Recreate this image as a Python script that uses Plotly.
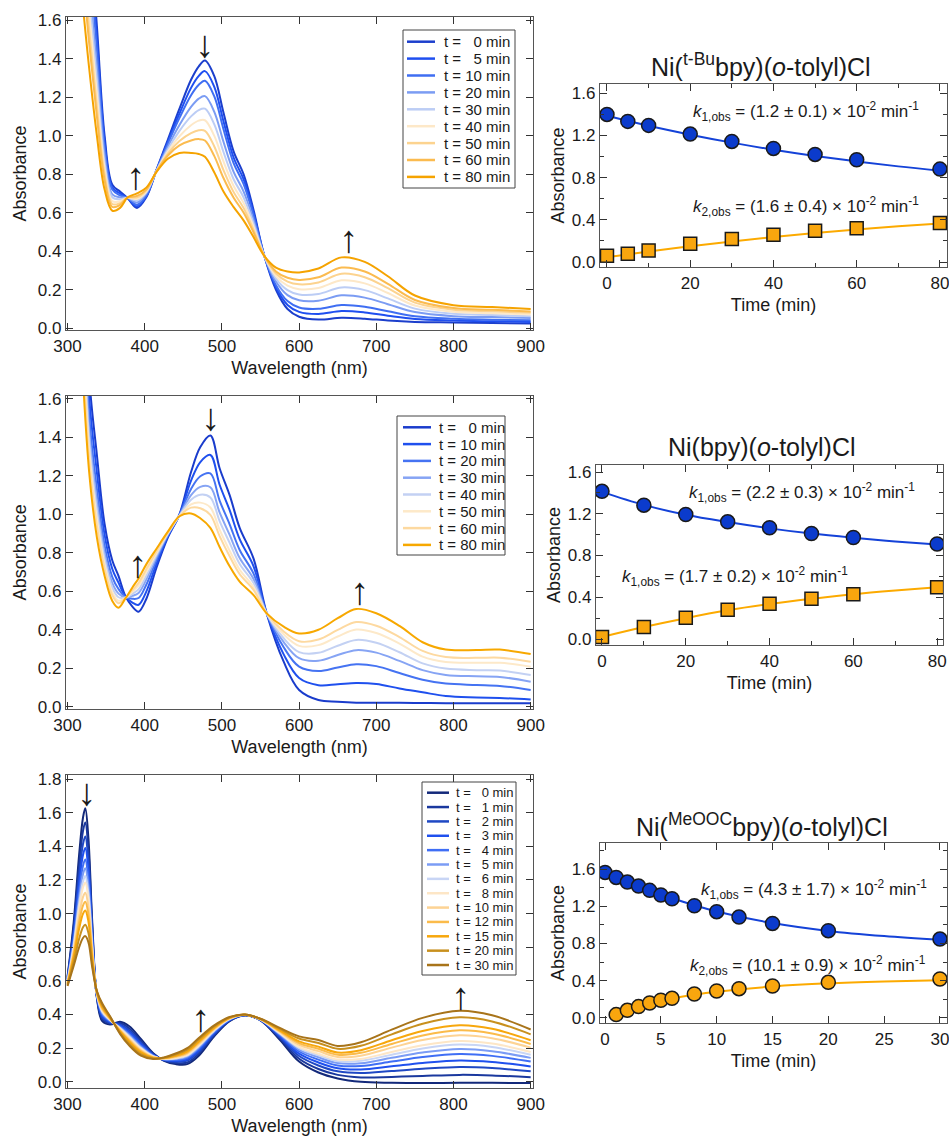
import plotly.graph_objects as go

FIG_W, FIG_H = 949, 1138
FONT = "Liberation Sans, Arial, Helvetica, sans-serif"

# ---------------- data: panel 1, Ni(t-Bu bpy)(o-tolyl)Cl spectra ----------------
WL1 = [318, 328, 338, 348, 358, 368, 378, 390, 402, 415, 430, 445, 460, 470, 478, 490,
       502, 515, 528, 540, 555, 570, 585, 600, 625, 655, 685, 715, 750, 800, 850, 900]
TIMES1 = ["0", "5", "10", "20", "30", "40", "50", "60", "80"]
P1_T0 = [2.8, 2.1, 1.57, 1.0, 0.745, 0.71, 0.675, 0.625, 0.68, 0.82, 0.98, 1.14, 1.29, 1.36, 1.39, 1.31, 1.12, 0.92, 0.80, 0.63, 0.375, 0.20, 0.10, 0.06, 0.045, 0.055, 0.05, 0.04, 0.033, 0.03, 0.027, 0.025]
P1_T5 = [2.68, 2.02, 1.51, 0.97, 0.73, 0.70, 0.675, 0.633, 0.685, 0.819, 0.969, 1.115, 1.248, 1.31, 1.335, 1.255, 1.075, 0.888, 0.774, 0.614, 0.375, 0.213, 0.121, 0.085, 0.074, 0.089, 0.082, 0.065, 0.048, 0.04, 0.036, 0.033]
P1_T10 = [2.58, 1.94, 1.45, 0.94, 0.72, 0.69, 0.676, 0.641, 0.69, 0.818, 0.959, 1.092, 1.21, 1.264, 1.285, 1.205, 1.034, 0.859, 0.75, 0.599, 0.375, 0.224, 0.141, 0.108, 0.101, 0.121, 0.112, 0.088, 0.062, 0.049, 0.044, 0.041]
P1_T20 = [2.41, 1.82, 1.36, 0.90, 0.695, 0.68, 0.677, 0.653, 0.70, 0.816, 0.943, 1.055, 1.149, 1.192, 1.205, 1.125, 0.968, 0.813, 0.711, 0.575, 0.375, 0.243, 0.172, 0.145, 0.143, 0.171, 0.159, 0.125, 0.084, 0.063, 0.058, 0.053]
P1_T30 = [2.28, 1.73, 1.29, 0.86, 0.68, 0.67, 0.678, 0.663, 0.705, 0.815, 0.93, 1.025, 1.10, 1.133, 1.14, 1.06, 0.915, 0.775, 0.68, 0.555, 0.375, 0.258, 0.198, 0.175, 0.178, 0.212, 0.198, 0.155, 0.102, 0.075, 0.069, 0.063]
P1_T40 = [2.15, 1.64, 1.22, 0.83, 0.66, 0.66, 0.678, 0.672, 0.71, 0.814, 0.918, 0.997, 1.054, 1.078, 1.08, 1.0, 0.866, 0.74, 0.651, 0.537, 0.375, 0.271, 0.221, 0.203, 0.209, 0.249, 0.233, 0.183, 0.118, 0.086, 0.078, 0.072]
P1_T50 = [2.03, 1.55, 1.15, 0.80, 0.645, 0.65, 0.679, 0.68, 0.716, 0.813, 0.907, 0.972, 1.013, 1.028, 1.025, 0.945, 0.821, 0.708, 0.625, 0.52, 0.375, 0.284, 0.242, 0.228, 0.238, 0.283, 0.265, 0.208, 0.133, 0.096, 0.088, 0.08]
P1_T60 = [1.93, 1.48, 1.10, 0.77, 0.63, 0.64, 0.679, 0.687, 0.72, 0.812, 0.897, 0.949, 0.975, 0.982, 0.975, 0.895, 0.78, 0.679, 0.601, 0.506, 0.375, 0.295, 0.262, 0.251, 0.265, 0.315, 0.295, 0.231, 0.147, 0.105, 0.096, 0.087]
P1_T80 = [1.75, 1.35, 1.0, 0.72, 0.61, 0.625, 0.68, 0.70, 0.73, 0.81, 0.88, 0.91, 0.91, 0.905, 0.89, 0.81, 0.71, 0.63, 0.56, 0.48, 0.375, 0.315, 0.295, 0.29, 0.31, 0.368, 0.345, 0.27, 0.17, 0.12, 0.11, 0.10]
COLORS1 = ["#1c3fcc", "#1f4ff0", "#3f6ef2", "#7b9cf3", "#bccdf5", "#fde8c8", "#fcd38f", "#fbbb4f", "#f5a300"]

# ---------------- data: panel 2, Ni(bpy)(o-tolyl)Cl spectra ----------------
WL2 = [318, 328, 338, 348, 358, 366, 375, 384, 392, 402, 415, 430, 445, 460, 472, 485, 497,
       510, 523, 541, 558, 580, 600, 625, 650, 674, 700, 730, 760, 790, 830, 860, 900]
TIMES2 = ["0", "10", "20", "30", "40", "50", "60", "80"]
P2_T0 = [3.0, 1.72, 1.31, 0.95, 0.76, 0.68, 0.575, 0.52, 0.494, 0.56, 0.72, 0.88, 1.0, 1.22, 1.35, 1.41, 1.24, 1.10, 0.93, 0.77, 0.485, 0.234, 0.087, 0.035, 0.026, 0.021, 0.02, 0.02, 0.019, 0.018, 0.018, 0.018, 0.018]
P2_T10 = [2.76, 1.615, 1.22, 0.893, 0.716, 0.645, 0.572, 0.541, 0.53, 0.598, 0.741, 0.886, 0.998, 1.175, 1.272, 1.309, 1.154, 1.022, 0.871, 0.73, 0.485, 0.272, 0.149, 0.112, 0.117, 0.123, 0.118, 0.095, 0.075, 0.055, 0.048, 0.045, 0.038]
P2_T20 = [2.53, 1.515, 1.134, 0.839, 0.674, 0.612, 0.57, 0.561, 0.565, 0.634, 0.761, 0.892, 0.996, 1.132, 1.198, 1.213, 1.072, 0.948, 0.815, 0.692, 0.485, 0.309, 0.208, 0.185, 0.204, 0.221, 0.211, 0.175, 0.14, 0.12, 0.113, 0.108, 0.087]
P2_T30 = [2.36, 1.44, 1.069, 0.799, 0.642, 0.588, 0.568, 0.576, 0.591, 0.661, 0.776, 0.897, 0.994, 1.10, 1.143, 1.141, 1.01, 0.893, 0.773, 0.664, 0.485, 0.336, 0.252, 0.239, 0.269, 0.294, 0.281, 0.238, 0.19, 0.165, 0.158, 0.155, 0.13]
P2_T40 = [2.23, 1.385, 1.022, 0.769, 0.619, 0.569, 0.567, 0.587, 0.61, 0.681, 0.787, 0.90, 0.993, 1.076, 1.102, 1.088, 0.965, 0.852, 0.742, 0.643, 0.485, 0.356, 0.284, 0.28, 0.317, 0.347, 0.332, 0.283, 0.225, 0.198, 0.19, 0.188, 0.165]
P2_T50 = [2.10, 1.33, 0.975, 0.739, 0.596, 0.551, 0.566, 0.598, 0.629, 0.70, 0.798, 0.903, 0.992, 1.052, 1.061, 1.036, 0.92, 0.811, 0.712, 0.622, 0.485, 0.376, 0.316, 0.32, 0.365, 0.401, 0.383, 0.328, 0.26, 0.232, 0.228, 0.228, 0.208]
P2_T60 = [2.01, 1.29, 0.94, 0.718, 0.579, 0.538, 0.565, 0.606, 0.643, 0.715, 0.806, 0.906, 0.991, 1.035, 1.032, 0.997, 0.887, 0.782, 0.689, 0.607, 0.485, 0.391, 0.34, 0.349, 0.399, 0.44, 0.421, 0.362, 0.29, 0.258, 0.254, 0.255, 0.234]
P2_T80 = [1.85, 1.22, 0.88, 0.68, 0.55, 0.515, 0.563, 0.62, 0.667, 0.74, 0.82, 0.91, 0.99, 1.005, 0.98, 0.93, 0.83, 0.73, 0.65, 0.58, 0.485, 0.416, 0.381, 0.40, 0.46, 0.508, 0.486, 0.42, 0.335, 0.297, 0.295, 0.297, 0.274]
COLORS2 = ["#1a3ccc", "#1f50ee", "#4573f2", "#86a4f4", "#c3d1f3", "#fde9c9", "#fdd9a0", "#f7a800"]

# ---------------- data: panel 3, Ni(MeOOC bpy)(o-tolyl)Cl spectra ----------------
WL3 = [300, 308, 315, 320, 323, 327, 332, 338, 345, 355, 368, 380, 395, 411, 425, 440,
       455, 470, 490, 510, 530, 550, 575, 600, 625, 650, 680, 720, 760, 808, 850, 900]
TIMES3 = ["0", "1", "2", "3", "4", "5", "6", "8", "10", "12", "15", "20", "30"]
P3_T0 = [0.625, 0.95, 1.35, 1.57, 1.626, 1.45, 0.95, 0.50, 0.36, 0.34, 0.357, 0.33, 0.255, 0.17, 0.125, 0.105, 0.105, 0.155, 0.27, 0.36, 0.395, 0.365, 0.25, 0.12, 0.055, 0.02, 0.0, -0.006, -0.008, -0.006, -0.006, -0.008]
P3_T1 = [0.619, 0.921, 1.29, 1.491, 1.542, 1.382, 0.92, 0.504, 0.372, 0.346, 0.349, 0.317, 0.244, 0.166, 0.127, 0.112, 0.115, 0.167, 0.277, 0.363, 0.396, 0.366, 0.258, 0.137, 0.076, 0.041, 0.026, 0.029, 0.035, 0.041, 0.038, 0.027]
P3_T2 = [0.613, 0.893, 1.229, 1.413, 1.459, 1.314, 0.891, 0.509, 0.383, 0.351, 0.341, 0.305, 0.233, 0.162, 0.129, 0.119, 0.126, 0.178, 0.284, 0.366, 0.396, 0.367, 0.265, 0.153, 0.097, 0.062, 0.052, 0.064, 0.077, 0.088, 0.082, 0.062]
P3_T3 = [0.608, 0.869, 1.18, 1.348, 1.39, 1.258, 0.866, 0.512, 0.393, 0.356, 0.335, 0.294, 0.224, 0.159, 0.131, 0.125, 0.134, 0.188, 0.29, 0.368, 0.397, 0.368, 0.272, 0.167, 0.115, 0.08, 0.073, 0.092, 0.112, 0.127, 0.118, 0.091]
P3_T4 = [0.603, 0.846, 1.13, 1.284, 1.322, 1.202, 0.842, 0.516, 0.402, 0.36, 0.328, 0.284, 0.215, 0.156, 0.133, 0.13, 0.143, 0.197, 0.296, 0.37, 0.397, 0.369, 0.278, 0.18, 0.132, 0.097, 0.094, 0.12, 0.147, 0.165, 0.154, 0.12]
P3_T5 = [0.599, 0.828, 1.092, 1.234, 1.269, 1.159, 0.823, 0.519, 0.409, 0.364, 0.323, 0.276, 0.208, 0.154, 0.134, 0.135, 0.15, 0.204, 0.301, 0.372, 0.397, 0.37, 0.283, 0.191, 0.146, 0.111, 0.11, 0.143, 0.174, 0.195, 0.182, 0.142]
P3_T6 = [0.595, 0.812, 1.059, 1.191, 1.223, 1.121, 0.807, 0.521, 0.416, 0.367, 0.319, 0.269, 0.202, 0.151, 0.136, 0.138, 0.155, 0.211, 0.304, 0.373, 0.398, 0.37, 0.287, 0.2, 0.157, 0.122, 0.125, 0.161, 0.198, 0.221, 0.207, 0.161]
P3_T8 = [0.593, 0.799, 1.031, 1.155, 1.185, 1.09, 0.793, 0.523, 0.421, 0.369, 0.315, 0.263, 0.197, 0.15, 0.137, 0.142, 0.16, 0.216, 0.308, 0.375, 0.398, 0.371, 0.291, 0.207, 0.167, 0.132, 0.136, 0.177, 0.217, 0.242, 0.227, 0.177]
P3_T10 = [0.588, 0.778, 0.987, 1.098, 1.124, 1.041, 0.772, 0.526, 0.429, 0.373, 0.309, 0.254, 0.189, 0.147, 0.138, 0.147, 0.168, 0.224, 0.313, 0.377, 0.398, 0.372, 0.296, 0.219, 0.182, 0.147, 0.155, 0.203, 0.248, 0.276, 0.259, 0.203]
P3_T12 = [0.584, 0.76, 0.949, 1.048, 1.071, 0.997, 0.753, 0.529, 0.437, 0.377, 0.304, 0.246, 0.182, 0.144, 0.14, 0.151, 0.174, 0.232, 0.317, 0.378, 0.399, 0.372, 0.301, 0.23, 0.196, 0.161, 0.172, 0.225, 0.275, 0.306, 0.287, 0.225]
P3_T15 = [0.58, 0.742, 0.91, 0.998, 1.018, 0.954, 0.734, 0.532, 0.444, 0.38, 0.299, 0.238, 0.175, 0.142, 0.141, 0.155, 0.181, 0.239, 0.322, 0.38, 0.399, 0.373, 0.306, 0.24, 0.209, 0.174, 0.188, 0.247, 0.302, 0.336, 0.315, 0.247]
P3_T20 = [0.574, 0.713, 0.85, 0.919, 0.934, 0.886, 0.704, 0.536, 0.456, 0.386, 0.291, 0.225, 0.164, 0.138, 0.143, 0.162, 0.191, 0.251, 0.329, 0.383, 0.40, 0.374, 0.314, 0.257, 0.231, 0.196, 0.214, 0.282, 0.345, 0.383, 0.359, 0.282]
P3_T30 = [0.569, 0.69, 0.80, 0.855, 0.866, 0.83, 0.68, 0.54, 0.465, 0.39, 0.285, 0.215, 0.155, 0.135, 0.145, 0.168, 0.20, 0.26, 0.335, 0.385, 0.40, 0.375, 0.32, 0.27, 0.248, 0.213, 0.235, 0.31, 0.38, 0.422, 0.395, 0.311]
COLORS3 = ["#13297a", "#1a389e", "#1f48c4", "#1f50ee", "#3f6ef5", "#7b9cf5", "#c8d5f5",
           "#fde6c6", "#fdd394", "#fbbb4a", "#f7a70c", "#c8901e", "#a8741a"]

# ---------------- data: kinetics panels ----------------
K1_T = [0, 5, 10, 20, 30, 40, 50, 60, 80]
K1_A1 = [1.398, 1.332, 1.294, 1.212, 1.142, 1.076, 1.019, 0.969, 0.880]
K1_A2 = [0.060, 0.079, 0.110, 0.174, 0.218, 0.259, 0.297, 0.319, 0.369]
K1_FIT_T = [0, 10, 20, 30, 40, 50, 60, 70, 80]
K1_FIT1 = [1.385, 1.290, 1.206, 1.131, 1.064, 1.005, 0.953, 0.906, 0.865]
K1_FIT2 = [0.045, 0.100, 0.150, 0.195, 0.237, 0.274, 0.308, 0.339, 0.366]

K2_T = [0, 10, 20, 30, 40, 50, 60, 80]
K2_A1 = [1.415, 1.282, 1.193, 1.123, 1.066, 1.011, 0.973, 0.910]
K2_A2 = [0.019, 0.115, 0.204, 0.280, 0.337, 0.385, 0.429, 0.496]
K2_FIT_T = [0, 10, 20, 30, 40, 50, 60, 70, 80]
K2_FIT1 = [1.41, 1.285, 1.19, 1.12, 1.06, 1.01, 0.97, 0.935, 0.905]
K2_FIT2 = [0.02, 0.115, 0.2, 0.275, 0.335, 0.385, 0.43, 0.465, 0.495]

K3_T1 = [0, 1, 2, 3, 4, 5, 6, 8, 10, 12, 15, 20, 30]
K3_A1 = [1.564, 1.510, 1.460, 1.417, 1.371, 1.321, 1.281, 1.206, 1.142, 1.084, 1.016, 0.938, 0.848]
K3_T2 = [1, 2, 3, 4, 5, 6, 8, 10, 12, 15, 20, 30]
K3_A2 = [0.036, 0.082, 0.122, 0.161, 0.190, 0.211, 0.258, 0.290, 0.315, 0.344, 0.383, 0.419]
K3_FIT_T1 = [0, 2.5, 5, 7.5, 10, 15, 20, 25, 30]
K3_FIT1 = [1.56, 1.44, 1.33, 1.23, 1.145, 1.02, 0.935, 0.88, 0.84]
K3_FIT_T2 = [0.5, 2, 4, 6, 8, 10, 15, 20, 25, 30]
K3_FIT2 = [0.015, 0.08, 0.155, 0.21, 0.25, 0.282, 0.338, 0.372, 0.392, 0.405]

TITLES = ["Ni(<sup>t-Bu</sup>bpy)(<i>o</i>-tolyl)Cl",
          "Ni(bpy)(<i>o</i>-tolyl)Cl",
          "Ni(<sup>MeOOC</sup>bpy)(<i>o</i>-tolyl)Cl"]
K_LABELS = [
    ["<i>k</i><sub>1,obs</sub> = (1.2 ± 0.1) × 10<sup>-2</sup> min<sup>-1</sup>",
     "<i>k</i><sub>2,obs</sub> = (1.6 ± 0.4) × 10<sup>-2</sup> min<sup>-1</sup>"],
    ["<i>k</i><sub>1,obs</sub> = (2.2 ± 0.3) × 10<sup>-2</sup> min<sup>-1</sup>",
     "<i>k</i><sub>1,obs</sub> = (1.7 ± 0.2) × 10<sup>-2</sup> min<sup>-1</sup>"],
    ["<i>k</i><sub>1,obs</sub> = (4.3 ± 1.7) × 10<sup>-2</sup> min<sup>-1</sup>",
     "<i>k</i><sub>2,obs</sub> = (10.1 ± 0.9) × 10<sup>-2</sup> min<sup>-1</sup>"],
]

BLUE_M, BLUE_L = "#0b3bcc", "#1442d8"
ORANGE_M, ORANGE_L = "#f9a60e", "#fcaa00"


def px_x(p):
    return p / FIG_W


def px_y(p):
    return 1 - p / FIG_H


fig = go.Figure()

# ---------------- spectra ----------------
spectra = [
    ("x", "y", WL1, [P1_T0, P1_T5, P1_T10, P1_T20, P1_T30, P1_T40, P1_T50, P1_T60, P1_T80], TIMES1, COLORS1),
    ("x2", "y2", WL2, [P2_T0, P2_T10, P2_T20, P2_T30, P2_T40, P2_T50, P2_T60, P2_T80], TIMES2, COLORS2),
    ("x3", "y3", WL3, [P3_T0, P3_T1, P3_T2, P3_T3, P3_T4, P3_T5, P3_T6, P3_T8, P3_T10, P3_T12,
                       P3_T15, P3_T20, P3_T30], TIMES3, COLORS3),
]
for xa, ya, wl, curves, times, cols in spectra:
    for curve, t, c in zip(curves, times, cols):
        fig.add_trace(go.Scatter(x=wl, y=curve, mode="lines", name=f"t = {t} min",
                                 line=dict(color=c, width=2, shape="spline", smoothing=1.0),
                                 xaxis=xa, yaxis=ya, showlegend=False))

# ---------------- kinetics ----------------
kin = [
    ("x4", "y4", K1_FIT_T, K1_FIT1, K1_FIT_T, K1_FIT2, K1_T, K1_A1, K1_T, K1_A2, "square"),
    ("x5", "y5", K2_FIT_T, K2_FIT1, K2_FIT_T, K2_FIT2, K2_T, K2_A1, K2_T, K2_A2, "square"),
    ("x6", "y6", K3_FIT_T1, K3_FIT1, K3_FIT_T2, K3_FIT2, K3_T1, K3_A1, K3_T2, K3_A2, "circle"),
]
for xa, ya, ft1, f1, ft2, f2, t1, a1, t2, a2, sym2 in kin:
    fig.add_trace(go.Scatter(x=ft1, y=f1, mode="lines", line=dict(color=BLUE_L, width=2, shape="spline"),
                             xaxis=xa, yaxis=ya, showlegend=False))
    fig.add_trace(go.Scatter(x=ft2, y=f2, mode="lines", line=dict(color=ORANGE_L, width=2, shape="spline"),
                             xaxis=xa, yaxis=ya, showlegend=False))
    fig.add_trace(go.Scatter(x=t1, y=a1, mode="markers",
                             marker=dict(symbol="circle", size=14, color=BLUE_M,
                                         line=dict(color="#1a1a1a", width=1.5)),
                             xaxis=xa, yaxis=ya, showlegend=False))
    fig.add_trace(go.Scatter(x=t2, y=a2, mode="markers",
                             marker=dict(symbol=sym2, size=13 if sym2 == "square" else 14, color=ORANGE_M,
                                         line=dict(color="#1a1a1a", width=1.5)),
                             xaxis=xa, yaxis=ya, showlegend=False))

# ---------------- axes ----------------
def axis(domain_px, vertical, rng, dtick, title, anchor, minor=None, fmt=None, standoff=6):
    if vertical:
        dom = [px_y(domain_px[1]), px_y(domain_px[0])]
    else:
        dom = [px_x(domain_px[0]), px_x(domain_px[1])]
    d = dict(domain=dom, range=rng, anchor=anchor, dtick=dtick, tick0=0, automargin=False,
             showline=True, linecolor="#555555", linewidth=1.3, mirror="allticks",
             ticks="inside", ticklen=7, tickwidth=1.2, tickcolor="#333333",
             showgrid=False, zeroline=False, ticklabeloverflow="allow",
             tickfont=dict(family=FONT, size=17, color="#1a1a1a"),
             title=dict(text=title, font=dict(family=FONT, size=18, color="#1a1a1a"), standoff=standoff))
    if fmt:
        d["tickformat"] = fmt
    if minor:
        d["minor"] = dict(dtick=minor, ticks="inside", ticklen=4, tickwidth=1, tickcolor="#333333")
    return d

LEFT_X = [66, 533]
layout_axes = dict(
    xaxis=axis(LEFT_X, False, [298, 903], 100, "Wavelength (nm)", "y"),
    yaxis=axis([17, 330], True, [-0.009, 1.616], 0.2, "Absorbance", "x", fmt=".1f"),
    xaxis2=axis(LEFT_X, False, [298, 903], 100, "Wavelength (nm)", "y2"),
    yaxis2=axis([395.7, 709], True, [-0.012, 1.617], 0.2, "Absorbance", "x2", fmt=".1f"),
    xaxis3=axis(LEFT_X, False, [298, 903], 100, "Wavelength (nm)", "y3"),
    yaxis3=axis([775, 1088], True, [-0.037, 1.824], 0.2, "Absorbance", "x3", fmt=".1f"),
    xaxis4=axis([600, 947], False, [-1.68, 81.7], 20, "Time (min)", "y4", minor=10),
    yaxis4=axis([84, 267], True, [-0.047, 1.686], 0.4, "Absorbance", "x4", minor=0.2, fmt=".1f", standoff=2),
    xaxis5=axis([596, 943], False, [-1.43, 81.4], 20, "Time (min)", "y5", minor=10),
    yaxis5=axis([465, 645], True, [-0.057, 1.667], 0.4, "Absorbance", "x5", minor=0.2, fmt=".1f", standoff=2),
    xaxis6=axis([600, 947], False, [-0.45, 30.63], 5, "Time (min)", "y6"),
    yaxis6=axis([843, 1023], True, [-0.054, 1.88], 0.4, "Absorbance", "x6", minor=0.2, fmt=".1f", standoff=2),
)

fig.update_layout(
    width=FIG_W, height=FIG_H, margin=dict(l=0, r=0, t=0, b=0, autoexpand=False),
    paper_bgcolor="white", plot_bgcolor="white",
    font=dict(family=FONT, color="#1a1a1a"), showlegend=False,
    **layout_axes,
)

# ---------------- titles and rate-constant labels ----------------
TITLE_POS = [(761, 65), (762, 447), (762, 825)]
for txt, (x, y) in zip(TITLES, TITLE_POS):
    fig.add_annotation(x=px_x(x), y=px_y(y), xref="paper", yref="paper", text=txt, showarrow=False,
                       xanchor="center", yanchor="middle", font=dict(family=FONT, size=25, color="#1a1a1a"))

K_POS = [[(806, 112), (806, 207)], [(802, 492), (735, 577)], [(814, 889), (808, 965)]]
for labels, poss in zip(K_LABELS, K_POS):
    for txt, (x, y) in zip(labels, poss):
        fig.add_annotation(x=px_x(x), y=px_y(y), xref="paper", yref="paper", text=txt, showarrow=False,
                           xanchor="center", yanchor="middle", font=dict(family=FONT, size=17, color="#1a1a1a"))

# ---------------- trend arrows (data coordinates) ----------------
ARROWS = [
    ("x", "y", 477, 1.475, "↓"), ("x", "y", 387.5, 0.79, "↑"), ("x", "y", 663.5, 0.463, "↑"),
    ("x2", "y2", 485.6, 1.506, "↓"), ("x2", "y2", 390, 0.742, "↑"), ("x2", "y2", 677.7, 0.602, "↑"),
    ("x3", "y3", 324, 1.72, "↓"), ("x3", "y3", 471.7, 0.382, "↑"), ("x3", "y3", 809.5, 0.51, "↑"),
]
for xa, ya, x, y, g in ARROWS:
    fig.add_annotation(x=x, y=y, xref=xa, yref=ya, text=g, showarrow=False,
                       xanchor="center", yanchor="middle", font=dict(family=FONT, size=38, color="#1a1a1a"))

# ---------------- legends (boxes with line samples) ----------------
def add_legend(box, first_y, step, sw_x, txt_x, times, cols, fs, width):
    x0, y0, x1, y1 = box
    fig.add_shape(type="rect", xref="paper", yref="paper", x0=px_x(x0), x1=px_x(x1),
                  y0=px_y(y1), y1=px_y(y0), line=dict(color="#444444", width=1),
                  fillcolor="white", layer="above")
    for i, (t, c) in enumerate(zip(times, cols)):
        yy = first_y + i * step
        fig.add_shape(type="line", xref="paper", yref="paper", x0=px_x(sw_x[0]), x1=px_x(sw_x[1]),
                      y0=px_y(yy), y1=px_y(yy), line=dict(color=c, width=width), layer="above")
        pad = "\u2007" if len(t) == 1 else ""
        fig.add_annotation(x=px_x(txt_x), y=px_y(yy), xref="paper", yref="paper",
                           text=f"t = {pad}{t} min", showarrow=False, xanchor="left", yanchor="middle",
                           font=dict(family=FONT, size=fs, color="#1a1a1a"))

add_legend((403, 30, 515, 188), 41.7, 16.9, (407, 435), 442, TIMES1, COLORS1, 15, 2.5)
add_legend((397, 416, 505, 555), 427.3, 16.8, (403, 431), 437, TIMES2, COLORS2, 15, 2.5)
add_legend((422, 782, 516, 975), 792.7, 14.36, (427, 449), 454, TIMES3, COLORS3, 13, 2.5)

fig.write_html("out.html", config={"displayModeBar": False},
               post_script="document.body.style.margin='0';document.body.style.overflow='hidden';")
